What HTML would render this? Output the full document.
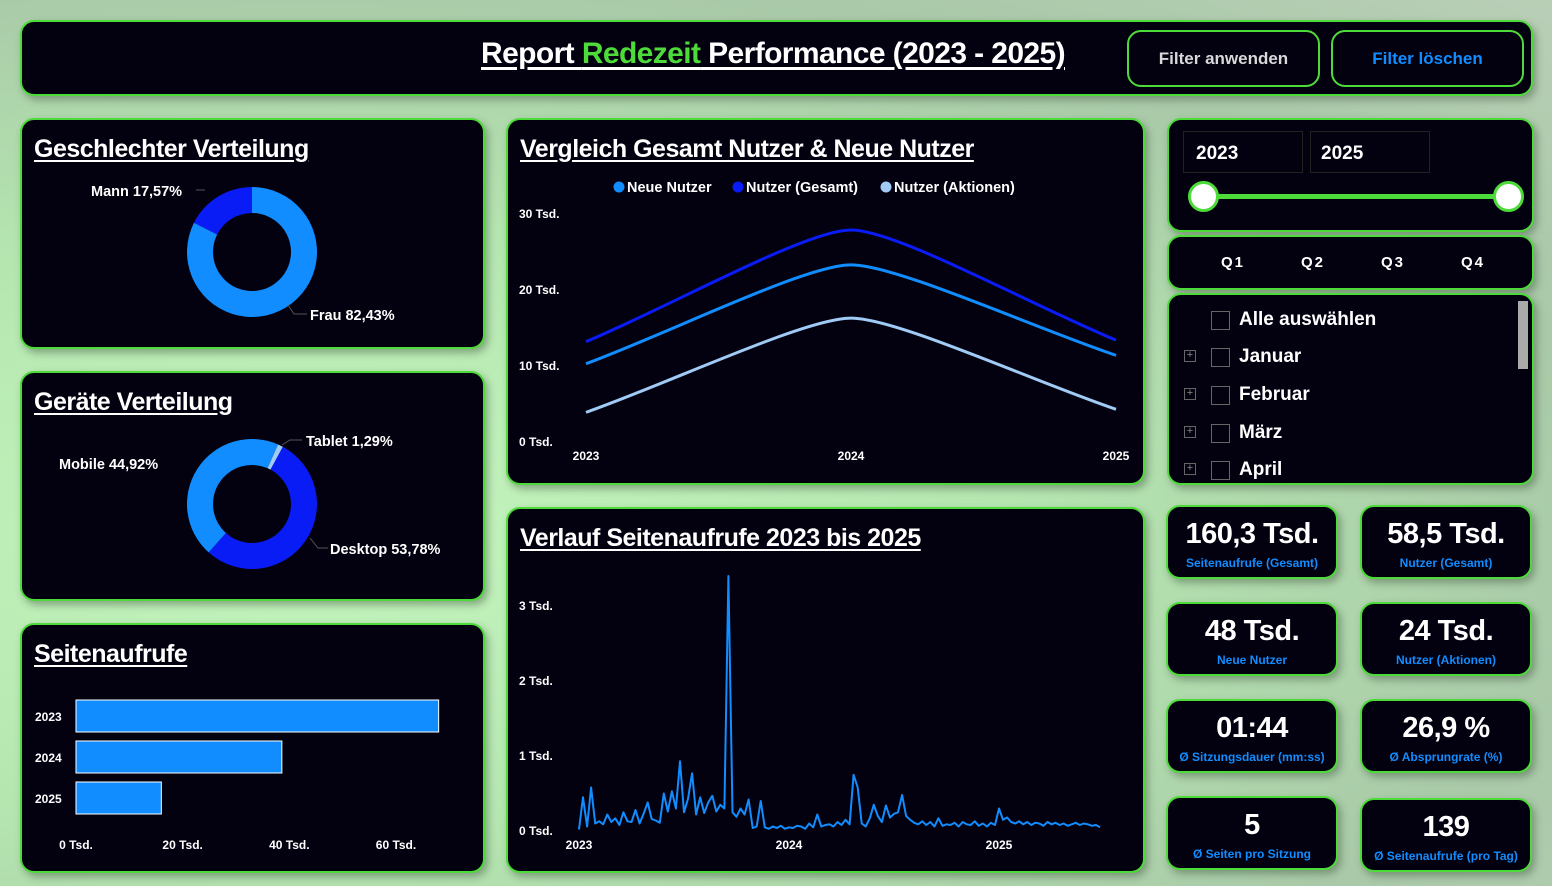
<!DOCTYPE html>
<html><head><meta charset="utf-8">
<style>
*{box-sizing:border-box;margin:0;padding:0}
body{width:1552px;height:886px;overflow:hidden;position:relative;font-family:"Liberation Sans",sans-serif;font-weight:bold;color:#fff;
background:radial-gradient(ellipse at 20% 60%,#c4f5bd 0%,#b5e6b0 40%,#a9c9a8 75%,#b9cfb7 100%);}
.p{position:absolute;background:#03000f;border:2px solid #4ddb3a;border-radius:14px;box-shadow:3px 4px 8px rgba(60,80,60,.45)}
.t{position:absolute;left:12px;top:15px;font-size:25px;text-decoration:underline;text-underline-offset:3px;letter-spacing:-0.5px;white-space:nowrap}
.btn{position:absolute;top:30px;height:57px;width:193px;border:2px solid #4ddb3a;border-radius:14px;background:#03000f;font-size:17px;display:flex;align-items:center;justify-content:center}
.k{position:absolute;width:172px;height:74px;text-align:center}
.k .v{font-size:29px;margin-top:11px;letter-spacing:-0.5px}
.k .l{font-size:12px;color:#118dff;margin-top:5px;white-space:nowrap}
.cb{position:absolute;left:42px;width:19px;height:19px;border:1.5px solid #666}
.pl{position:absolute;left:15px;width:12px;height:12px;border:1px solid #666;color:#888;font-size:11px;line-height:9px;text-align:center;font-weight:normal}
.ml{position:absolute;left:70px;font-size:19px}
svg text{font-family:"Liberation Sans",sans-serif;font-weight:bold;fill:#fff}
</style></head><body>
<div class="p" style="left:20px;top:20px;width:1513px;height:76px">
<div style="position:absolute;left:459px;top:15px;font-size:30px;text-decoration:underline;text-underline-offset:4px;letter-spacing:-0.6px;white-space:nowrap">Report <span style="color:#4ddb3a">Redezeit</span> Performance (2023 - 2025)</div>
</div>
<div class="btn" style="left:1127px;color:#d8d8d8">Filter anwenden</div>
<div class="btn" style="left:1331px;color:#118dff">Filter löschen</div>

<div class="p" style="left:20px;top:118px;width:465px;height:231px"><div class="t">Geschlechter Verteilung</div></div>
<div class="p" style="left:20px;top:371px;width:465px;height:230px"><div class="t">Geräte Verteilung</div></div>
<div class="p" style="left:20px;top:623px;width:465px;height:250px"><div class="t">Seitenaufrufe</div></div>
<div class="p" style="left:506px;top:118px;width:639px;height:367px"><div class="t">Vergleich Gesamt Nutzer &amp; Neue Nutzer</div></div>
<div class="p" style="left:506px;top:507px;width:639px;height:366px"><div class="t">Verlauf Seitenaufrufe 2023 bis 2025</div></div>

<div class="p" style="left:1167px;top:118px;width:367px;height:114px">
<div style="position:absolute;left:14px;top:11px;width:120px;height:42px;border:1px solid #222;font-size:19px;padding:11px 12px">2023</div>
<div style="position:absolute;left:141px;top:11px;width:120px;height:42px;border:1px solid #222;font-size:19px;padding:11px 10px">2025</div>
<div style="position:absolute;left:34px;top:74px;width:306px;height:5px;background:#4ddb3a"></div>
<div style="position:absolute;left:19px;top:61px;width:31px;height:31px;border-radius:50%;background:#fff;border:3px solid #4ddb3a"></div>
<div style="position:absolute;left:324px;top:61px;width:31px;height:31px;border-radius:50%;background:#fff;border:3px solid #4ddb3a"></div>
</div>
<div class="p" style="left:1167px;top:235px;width:367px;height:55px;font-size:15px;letter-spacing:2px">
<span style="position:absolute;left:52px;top:17px">Q1</span>
<span style="position:absolute;left:132px;top:17px">Q2</span>
<span style="position:absolute;left:212px;top:17px">Q3</span>
<span style="position:absolute;left:292px;top:17px">Q4</span>
</div>
<div class="p" style="left:1167px;top:293px;width:367px;height:192px;overflow:hidden">
<div style="position:absolute;left:349px;top:6px;width:10px;height:68px;background:#aaa"></div>
<div class="cb" style="top:16px"></div><div class="ml" style="top:14px">Alle auswählen</div>
<div class="pl" style="top:55px">+</div><div class="cb" style="top:53px"></div><div class="ml" style="top:51px">Januar</div>
<div class="pl" style="top:93px">+</div><div class="cb" style="top:91px"></div><div class="ml" style="top:89px">Februar</div>
<div class="pl" style="top:131px">+</div><div class="cb" style="top:129px"></div><div class="ml" style="top:127px">März</div>
<div class="pl" style="top:168px">+</div><div class="cb" style="top:166px"></div><div class="ml" style="top:164px">April</div>
</div>

<div class="p k" style="left:1166px;top:505px"><div class="v">160,3 Tsd.</div><div class="l">Seitenaufrufe (Gesamt)</div></div>
<div class="p k" style="left:1360px;top:505px"><div class="v">58,5 Tsd.</div><div class="l">Nutzer (Gesamt)</div></div>
<div class="p k" style="left:1166px;top:602px"><div class="v">48 Tsd.</div><div class="l">Neue Nutzer</div></div>
<div class="p k" style="left:1360px;top:602px"><div class="v">24 Tsd.</div><div class="l">Nutzer (Aktionen)</div></div>
<div class="p k" style="left:1166px;top:699px"><div class="v">01:44</div><div class="l">Ø Sitzungsdauer (mm:ss)</div></div>
<div class="p k" style="left:1360px;top:699px"><div class="v">26,9 %</div><div class="l">Ø Absprungrate (%)</div></div>
<div class="p k" style="left:1166px;top:796px"><div class="v">5</div><div class="l">Ø Seiten pro Sitzung</div></div>
<div class="p k" style="left:1360px;top:798px"><div class="v">139</div><div class="l">Ø Seitenaufrufe (pro Tag)</div></div>

<svg id="ch" width="1552" height="886" style="position:absolute;left:0;top:0"></svg>
<script>
// gender donut
const genderCats=["Frau","Mann"];
const genderVals=[82.43,17.57];
// device donut
const deviceCats=["Desktop","Mobile","Tablet"];
const deviceVals=[53.78,44.92,1.29];
// bars
const barCats=["2023","2024","2025"];
const barVals=[68,38.6,16];
const barTicks=[0,20,40,60];
// line chart
const lineYears=["2023","2024","2025"];
const lineGesamt=[13.2,27.9,13.4];
const lineNeue=[10.3,23.3,11.4];
const lineAktionen=[3.9,16.3,4.3];
const lineTicks=[0,10,20,30];
// pageview trend (weekly, Tsd.)
const trend2023=[0.02,0.45,0.06,0.58,0.10,0.13,0.09,0.22,0.12,0.17,0.08,0.25,0.13,0.12,0.28,0.10,0.23,0.38,0.16,0.14,0.11,0.50,0.26,0.53,0.30,0.93,0.25,0.43,0.77,0.22,0.45,0.24,0.38,0.47,0.26,0.35,0.30,3.40,0.25,0.19,0.30,0.22,0.42,0.04,0.06,0.40,0.05,0.03,0.06,0.04,0.07,0.03];
const trend2024=[0.05,0.04,0.07,0.06,0.03,0.10,0.05,0.22,0.06,0.08,0.09,0.06,0.12,0.08,0.15,0.09,0.75,0.58,0.10,0.06,0.17,0.35,0.20,0.12,0.34,0.18,0.23,0.25,0.48,0.20,0.15,0.11,0.09,0.13,0.08,0.12,0.06,0.17,0.07,0.09,0.08,0.11,0.06,0.12,0.09,0.08,0.13,0.07,0.10,0.06,0.11,0.08];
const trend2025=[0.30,0.15,0.18,0.12,0.10,0.13,0.09,0.12,0.08,0.11,0.10,0.07,0.12,0.09,0.11,0.08,0.10,0.07,0.09,0.11,0.08,0.10,0.09,0.07,0.08,0.05];
const trendTicks=[0,1,2,3];
const trendYears=["2023","2024","2025"];

const svg=document.getElementById('ch');const NS="http://www.w3.org/2000/svg";
function mk(t,a,txt){const e=document.createElementNS(NS,t);for(const k in a)e.setAttribute(k,a[k]);if(txt!=null)e.textContent=txt;svg.appendChild(e);return e;}
function arc(cx,cy,r0,r1,a0,a1){const p=(r,a)=>[cx+r*Math.sin(a*Math.PI/180),cy-r*Math.cos(a*Math.PI/180)];const l=(a1-a0)>180?1:0;
const A=p(r1,a0),B=p(r1,a1),C=p(r0,a1),D=p(r0,a0);return `M${A}A${r1},${r1} 0 ${l} 1 ${B}L${C}A${r0},${r0} 0 ${l} 0 ${D}Z`;}
// gender
let a=0;const gCol=["#118dff","#0a1cf5"];
genderVals.forEach((v,i)=>{const e=mk('path',{d:arc(252,252,39,65,a,a+v*3.6),fill:gCol[i]});a+=v*3.6;});
mk('polyline',{points:"205,190 196,190",stroke:"#555",fill:"none"});
mk('polyline',{points:"288,305 294,314 307,314",stroke:"#555",fill:"none"});
let e=mk('text',{x:91,y:196,'font-size':14.5},"Mann "+genderVals[1].toFixed(2).replace('.',',')+"%");
e=mk('text',{x:310,y:320,'font-size':14.5},"Frau "+genderVals[0].toFixed(2).replace('.',',')+"%");
// device
a=28.3;const dCol=["#0a1cf5","#118dff","#a0cbf5"];
deviceVals.forEach((v,i)=>{const e=mk('path',{d:arc(252,504,39,65,a,a+v*3.6),fill:dCol[i]});a+=v*3.6;});
mk('polyline',{points:"282,445 290,440 302,440",stroke:"#555",fill:"none"});
mk('polyline',{points:"310,538 318,548 328,548",stroke:"#555",fill:"none"});
e=mk('text',{x:306,y:446,'font-size':14.5},"Tablet 1,29%");
e=mk('text',{x:59,y:469,'font-size':14.5},"Mobile 44,92%");
e=mk('text',{x:330,y:554,'font-size':14.5},"Desktop 53,78%");
// bars
const bx=v=>76+v*(396-76)/60;
barCats.forEach((c,i)=>{const y=700+i*41;const r=mk('rect',{x:76,y:y,width:bx(barVals[i])-76,height:32,fill:"#118dff",stroke:"#fff","stroke-width":1});

const t=mk('text',{x:35,y:y+21,'font-size':12},c);});
barTicks.forEach(v=>{const t=mk('text',{x:bx(v),y:849,'font-size':12,'text-anchor':'middle'},v+" Tsd.");});
// line chart
const ly=v=>442-v*(442-214)/30, lx=i=>586+i*265;
lineTicks.forEach(v=>{const t=mk('text',{x:519,y:ly(v)+4,'font-size':12},v+" Tsd.");});
lineYears.forEach((y,i)=>{const t=mk('text',{x:lx(i),y:460,'font-size':12,'text-anchor':'middle'},y);});
function smooth(vals){const P=vals.map((v,i)=>[lx(i),ly(v)]);let d=`M${P[0]}`;
const m1=(P[1][1]-P[0][1])/(P[1][0]-P[0][0]), m2=(P[2][1]-P[1][1])/(P[2][0]-P[1][0]);
d+=` C${P[0][0]+88},${P[0][1]+m1*88} ${P[1][0]-45},${P[1][1]} ${P[1]}`;
d+=` C${P[1][0]+45},${P[1][1]} ${P[2][0]-88},${P[2][1]-m2*88} ${P[2]}`;return d;}
[[lineGesamt,"#0a1cf5","line-nutzer-gesamt"],[lineNeue,"#118dff","line-neue-nutzer"],[lineAktionen,"#a0cbf5","line-nutzer-aktionen"]].forEach(s=>{
const p=mk('path',{d:smooth(s[0]),stroke:s[1],'stroke-width':3,fill:'none'});});
[["Neue Nutzer","#118dff",619],["Nutzer (Gesamt)","#0a1cf5",738],["Nutzer (Aktionen)","#a0cbf5",886]].forEach(l=>{
const c=mk('circle',{cx:l[2],cy:187,r:5.5,fill:l[1]});
const t=mk('text',{x:l[2]+8,y:192,'font-size':14.5},l[0]);});
// trend chart
const ty=v=>831-v*75, tyear=f=>579+f*210;
trendTicks.forEach(v=>{const t=mk('text',{x:519,y:ty(v)+4,'font-size':12},v+" Tsd.");});
trendYears.forEach((y,i)=>{const t=mk('text',{x:tyear(i),y:849,'font-size':12,'text-anchor':'middle'},y);});
let pts=[];[trend2023,trend2024,trend2025].forEach((arr,yi)=>arr.forEach((v,w)=>pts.push([tyear(yi+w/52).toFixed(1),ty(v).toFixed(1)])));
const tp=mk('polyline',{points:pts.map(p=>p.join(',')).join(' '),stroke:'#118dff','stroke-width':2,fill:'none','stroke-linejoin':'round'});

</script>
</body></html>
